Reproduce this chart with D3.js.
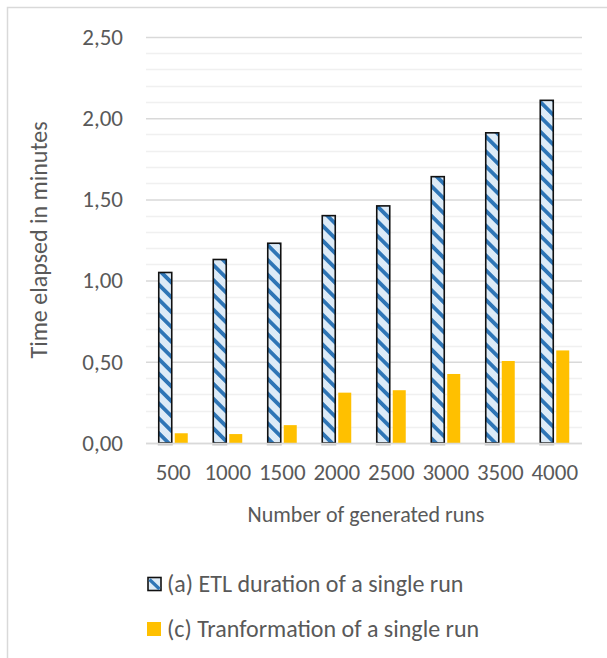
<!DOCTYPE html>
<html>
<head>
<meta charset="utf-8">
<script src="https://cdn.jsdelivr.net/npm/d3@7"></script>
<style>
  html, body { margin: 0; padding: 0; background: #fff; }
  svg { display: block; font-family: Carlito, Lato, "Open Sans", sans-serif; }
</style>
</head>
<body>
<svg id="chart" width="607" height="658"></svg>
<script>
// Number of generated runs
const categories = ["500", "1000", "1500", "2000", "2500", "3000", "3500", "4000"];
// (a) ETL duration of a single run, minutes
const etlDuration = [1.05, 1.13, 1.23, 1.40, 1.46, 1.64, 1.91, 2.11];
// (c) Transformation of a single run, minutes
const transformation = [0.06, 0.055, 0.11, 0.31, 0.325, 0.425, 0.505, 0.57];
const yTicks = [0, 0.5, 1.0, 1.5, 2.0, 2.5];
const seriesNames = ["(a) ETL duration of a single run", "(c) Tranformation of a single run"];

const svg = d3.select("#chart");
const margin = { left: 146, right: 25, top: 37, bottom: 215 };
const W = 607, H = 658;
const plotW = W - margin.left - margin.right;
const plotH = H - margin.top - margin.bottom;
const textColor = "#595959";

// chart frame (top and left edges)
svg.append("path")
  .attr("d", "M7.5,658 L7.5,7.5 L607,7.5")
  .attr("fill", "none").attr("stroke", "#d9d9d9").attr("stroke-width", 1.5);

const defs = svg.append("defs");
const pat = defs.append("pattern")
  .attr("id", "diag").attr("patternUnits", "userSpaceOnUse")
  .attr("width", 10.5).attr("height", 10.5)
  .attr("patternTransform", "rotate(-45)");
pat.append("rect").attr("width", 10.5).attr("height", 10.5).attr("fill", "#ddebf7");
pat.append("rect").attr("x", 0).attr("width", 3.8).attr("height", 10.5).attr("fill", "#2e75b6");

const x = d3.scaleBand().domain(categories).range([0, plotW]).paddingInner(0).paddingOuter(0);
const y = d3.scaleLinear().domain([0, 2.5]).range([plotH, 0]);

const g = svg.append("g").attr("transform", `translate(${margin.left},${margin.top})`);

// minor gridlines every 0.1
const minor = d3.range(0, 26).map(i => i / 10).filter(v => Math.round(v * 10) % 5 !== 0);
g.append("g").selectAll("line").data(minor).join("line")
  .attr("x1", 0).attr("x2", plotW)
  .attr("y1", d => Math.round(y(d)) + 0.5).attr("y2", d => Math.round(y(d)) + 0.5)
  .attr("stroke", "#f0f0f0").attr("stroke-width", 1.5);

// major gridlines + labels via axis
const yAxis = d3.axisLeft(y).tickValues(yTicks)
  .tickFormat(d => d3.format(".2f")(d).replace(".", ","))
  .tickSize(-plotW).tickPadding(23);
const ya = g.append("g").call(yAxis);
ya.select(".domain").remove();
ya.selectAll(".tick line").attr("stroke", "#d9d9d9").attr("stroke-width", 1.5);
ya.selectAll(".tick text").attr("fill", textColor).style("font-size", "23px")
  .style("font-family", "Carlito, Lato, sans-serif");

const barW = 13, gap = 3;

// shadow marks under the ETL bars
g.append("g").selectAll("rect").data(etlDuration).join("rect")
  .attr("x", (d, i) => x(categories[i]) + x.bandwidth() / 2 - gap / 2 - barW - 1)
  .attr("y", plotH + 0.5).attr("width", barW + 2).attr("height", 2)
  .attr("fill", "#c8c8c8");

// ETL bars
g.append("g").selectAll("rect").data(etlDuration).join("rect")
  .attr("x", (d, i) => x(categories[i]) + x.bandwidth() / 2 - gap / 2 - barW)
  .attr("y", d => y(d))
  .attr("width", barW)
  .attr("height", d => plotH - y(d))
  .attr("fill", "url(#diag)")
  .attr("stroke", "#111").attr("stroke-width", 1.6);

// Transformation bars
g.append("g").selectAll("rect").data(transformation).join("rect")
  .attr("x", (d, i) => x(categories[i]) + x.bandwidth() / 2 + gap / 2)
  .attr("y", d => y(d))
  .attr("width", barW)
  .attr("height", d => plotH - y(d))
  .attr("fill", "#ffc000");

// baseline
g.append("line").attr("x1", 0).attr("x2", plotW)
  .attr("y1", plotH + 0.5).attr("y2", plotH + 0.5)
  .attr("stroke", "#d9d9d9").attr("stroke-width", 1.5);

// x axis labels
const xAxis = d3.axisBottom(x).tickSize(0).tickPadding(21);
const xa = g.append("g").attr("transform", `translate(0,${plotH})`).call(xAxis);
xa.select(".domain").remove();
xa.selectAll(".tick text").attr("fill", textColor).style("font-size", "23px")
  .style("font-family", "Carlito, Lato, sans-serif");

// axis titles
svg.append("text").attr("x", margin.left + plotW / 2 + 2).attr("y", 522)
  .attr("text-anchor", "middle").attr("fill", textColor).style("font-size", "22px")
  .text("Number of generated runs");
svg.append("text").attr("transform", `translate(47,${margin.top + plotH / 2}) rotate(-90)`)
  .attr("text-anchor", "middle").attr("fill", textColor).style("font-size", "24px")
  .text("Time elapsed in minutes");

// legend
const leg = svg.append("g");
const legY = [584, 629];
leg.append("rect").attr("x", 148).attr("y", legY[0] - 6.5).attr("width", 13).attr("height", 13)
  .attr("fill", "#ddebf7").attr("stroke", "#111").attr("stroke-width", 1.6);
leg.append("line").attr("x1", 149.5).attr("y1", legY[0] - 4.5).attr("x2", 159.5).attr("y2", legY[0] + 5)
  .attr("stroke", "#2e75b6").attr("stroke-width", 3.2);
leg.append("rect").attr("x", 147).attr("y", legY[1] - 7).attr("width", 14).attr("height", 14)
  .attr("fill", "#ffc000");
leg.selectAll("text").data(seriesNames).join("text")
  .attr("x", 167).attr("y", (d, i) => legY[i] + 8)
  .attr("fill", textColor).style("font-size", "24px")
  .text(d => d);
</script>
</body>
</html>
